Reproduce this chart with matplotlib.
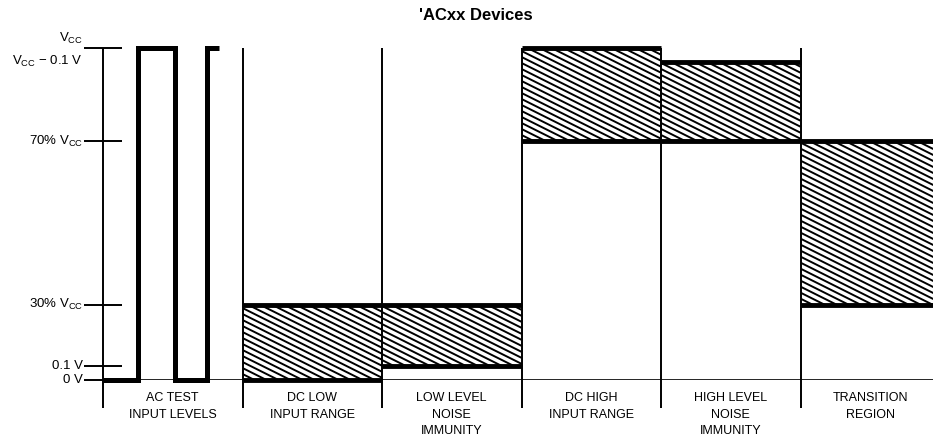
import numpy as np
import matplotlib
matplotlib.use("Agg")
import matplotlib.pyplot as plt
from matplotlib.patches import Rectangle
from matplotlib.collections import LineCollection

# schematic voltage levels (position on the drawing, 0 = 0 V, 1 = VCC)
level_names = ["0 V", "0.1 V", "30% VCC", "70% VCC", "VCC - 0.1 V", "VCC"]
level_pos = [0.0, 0.042, 0.227, 0.72, 0.958, 1.0]
level_labels = ["0 V", "0.1 V", r"30% V$_\mathrm{CC}$", r"70% V$_\mathrm{CC}$",
                r"V$_\mathrm{CC}$ $-$ 0.1 V", r"V$_\mathrm{CC}$"]
lvl = dict(zip(level_names, level_pos))

categories = ["AC TEST\nINPUT LEVELS", "DC LOW\nINPUT RANGE", "LOW LEVEL\nNOISE\nIMMUNITY",
              "DC HIGH\nINPUT RANGE", "HIGH LEVEL\nNOISE\nIMMUNITY", "TRANSITION\nREGION"]

# hatched ranges for columns 1..5
box_low = ["0 V", "0.1 V", "70% VCC", "70% VCC", "30% VCC"]
box_high = ["30% VCC", "30% VCC", "VCC", "VCC - 0.1 V", "70% VCC"]

# AC test waveform in column 0
ac_edges = [0.0, 0.25, 0.516, 0.745, 0.83]
ac_states = ["0 V", "VCC", "0 V", "VCC"]

plt.rcParams["font.family"] = ["Liberation Sans", "DejaVu Sans"]
plt.rcParams["mathtext.fontset"] = "custom"
plt.rcParams["mathtext.rm"] = "Liberation Sans"
plt.rcParams["mathtext.sf"] = "Liberation Sans"

W, H = 933, 446
fig = plt.figure(figsize=(W / 100, H / 100), dpi=100)
ax_l, ax_r, ax_top, ax_bot = 103, 933, 48, 380
ax = fig.add_axes([ax_l / W, 1 - ax_bot / H, (ax_r - ax_l) / W, (ax_bot - ax_top) / H])
col_px = 139.5
xmax = (ax_r - ax_l) / col_px
ax.set_xlim(0, xmax)
ax.set_ylim(0, 1)
for s in ax.spines.values():
    s.set_visible(False)
ax.set_xticks([])

px_x = col_px
px_y = ax_bot - ax_top

# y ticks (none for VCC - 0.1 V)
tick_levels = [p for n, p in zip(level_names, level_pos) if n != "VCC - 0.1 V"]
ax.set_yticks(tick_levels)
ax.set_yticklabels([])
ax.tick_params(axis="y", direction="inout", length=28, width=1.4, color="black")

# left labels
ytr = ax.get_yaxis_transform()
for name, pos, lab in zip(level_names, level_pos, level_labels):
    dy = 10 / px_y if name == "VCC" else 0
    ax.text(-20 / (ax_r - ax_l), pos + dy, lab, transform=ytr, ha="right", va="center",
            fontsize=9.5)

# hatched boxes
slope = 0.5 * px_x / px_y
step = 6 / px_y
for i, (lo, hi) in enumerate(zip(box_low, box_high)):
    x0, x1 = i + 1, i + 2
    y0, y1 = lvl[lo], lvl[hi]
    rect = Rectangle((x0, y0), x1 - x0, y1 - y0, facecolor="white", edgecolor="none")
    ax.add_patch(rect)
    cs = np.arange(y0, y1 + slope * (x1 - x0) + step, step)
    segs = [[(x0, c), (x1, c - slope * (x1 - x0))] for c in cs]
    lc = LineCollection(segs, colors="black", linewidths=1.4)
    ax.add_collection(lc, autolim=False)
    lc.set_clip_path(rect)
    ax.hlines([y0, y1], x0, min(x1, xmax), colors="black", linewidth=3.5,
              capstyle="butt", zorder=4, clip_on=False)

# baseline
ax.axhline(0, color="black", linewidth=1.2, zorder=3)

# column dividers (including axis)
y_ext = -28 / px_y
for i in range(len(categories)):
    ax.plot([i, i], [y_ext, 1], color="black", linewidth=1.4, clip_on=False, zorder=5,
            solid_capstyle="butt")

# AC test waveform
sp = ax.stairs([lvl[s] for s in ac_states], ac_edges, baseline=None, color="black",
               linewidth=3.6, clip_on=False, zorder=6)
sp.set_joinstyle("miter")
sp.set_capstyle("butt")

# category labels
xtr = ax.get_xaxis_transform()
for i, cat in enumerate(categories):
    ax.text(i + 0.5, -12 / px_y, cat, transform=xtr, ha="center", va="top",
            fontsize=9, linespacing=1.5)

fig.text(476 / W, 1 - 16 / H, "'ACxx Devices", ha="center", va="center",
         fontsize=12, fontweight="bold")

fig.savefig("out.png", dpi=100)
